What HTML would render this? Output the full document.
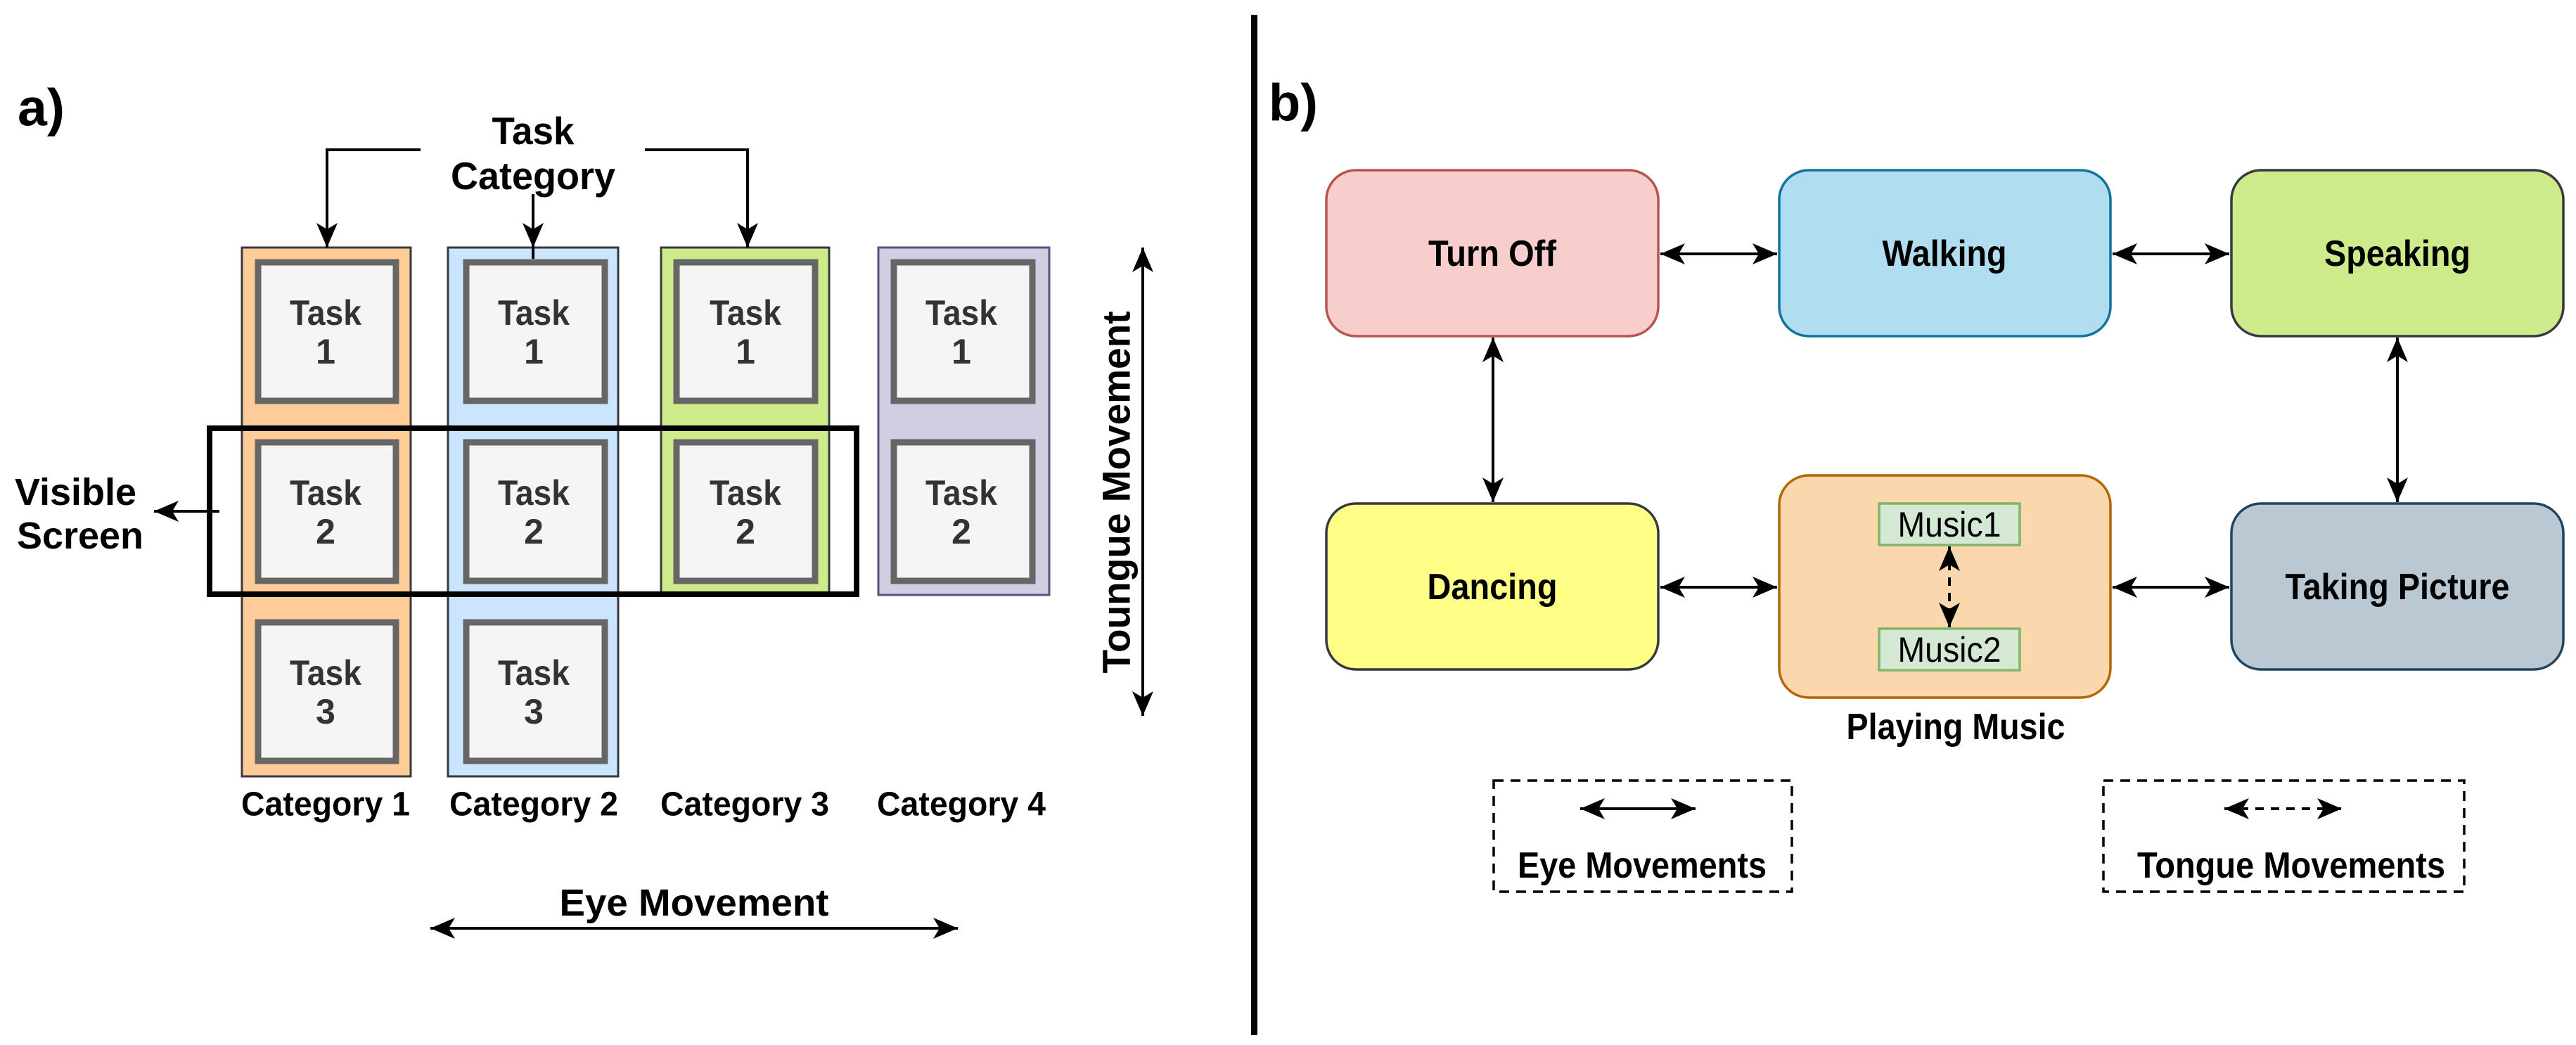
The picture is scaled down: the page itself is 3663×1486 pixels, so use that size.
<!DOCTYPE html>
<html><head><meta charset="utf-8"><style>
html,body{margin:0;padding:0;background:#fff;}
svg{display:block;}
text{font-family:"Liberation Sans",Arial,sans-serif;font-weight:bold;fill:#000;}
</style></head><body>
<svg width="3663" height="1486" viewBox="0 0 3663 1486" xmlns="http://www.w3.org/2000/svg">
<defs>
<marker id="ah" markerUnits="userSpaceOnUse" markerWidth="36" markerHeight="32" refX="35" refY="16" orient="auto-start-reverse" viewBox="0 0 36 32">
<path d="M0,1 L35,16 L0,31 L9,16 Z" fill="#000"/>
</marker>
</defs>

<!-- a) panel -->
<text x="25" y="153" font-size="74" dominant-baseline="central" textLength="67" lengthAdjust="spacingAndGlyphs">a)</text>

<!-- columns -->
<rect x="344" y="352" width="240" height="752" fill="#ffcc99" stroke="#36393d" stroke-width="3"/>
<rect x="637" y="352" width="242" height="752" fill="#cce5ff" stroke="#36393d" stroke-width="3"/>
<rect x="940" y="352" width="239" height="492" fill="#cdeb8b" stroke="#36393d" stroke-width="3"/>
<rect x="1249" y="352" width="243" height="494" fill="#d0cee2" stroke="#56517e" stroke-width="3"/>

<!-- task boxes -->
<g fill="#f5f5f5" stroke="#666" stroke-width="9">
<rect x="367" y="373" width="196" height="197"/>
<rect x="367" y="629" width="196" height="197"/>
<rect x="367" y="885" width="196" height="197"/>
<rect x="663" y="373" width="197" height="197"/>
<rect x="663" y="629" width="197" height="197"/>
<rect x="663" y="885" width="197" height="197"/>
<rect x="962" y="373" width="197" height="197"/>
<rect x="962" y="629" width="197" height="197"/>
<rect x="1271" y="373" width="197" height="197"/>
<rect x="1271" y="629" width="197" height="197"/>
</g>
<g font-size="50" text-anchor="middle" dominant-baseline="central" style="fill:#333">
<text x="463" y="445" style="fill:#333" textLength="102" lengthAdjust="spacingAndGlyphs">Task</text><text x="463" y="500" style="fill:#333">1</text>
<text x="463" y="701" style="fill:#333" textLength="102" lengthAdjust="spacingAndGlyphs">Task</text><text x="463" y="756" style="fill:#333">2</text>
<text x="463" y="957" style="fill:#333" textLength="102" lengthAdjust="spacingAndGlyphs">Task</text><text x="463" y="1012" style="fill:#333">3</text>
<text x="759" y="445" style="fill:#333" textLength="102" lengthAdjust="spacingAndGlyphs">Task</text><text x="759" y="500" style="fill:#333">1</text>
<text x="759" y="701" style="fill:#333" textLength="102" lengthAdjust="spacingAndGlyphs">Task</text><text x="759" y="756" style="fill:#333">2</text>
<text x="759" y="957" style="fill:#333" textLength="102" lengthAdjust="spacingAndGlyphs">Task</text><text x="759" y="1012" style="fill:#333">3</text>
<text x="1060" y="445" style="fill:#333" textLength="102" lengthAdjust="spacingAndGlyphs">Task</text><text x="1060" y="500" style="fill:#333">1</text>
<text x="1060" y="701" style="fill:#333" textLength="102" lengthAdjust="spacingAndGlyphs">Task</text><text x="1060" y="756" style="fill:#333">2</text>
<text x="1367" y="445" style="fill:#333" textLength="102" lengthAdjust="spacingAndGlyphs">Task</text><text x="1367" y="500" style="fill:#333">1</text>
<text x="1367" y="701" style="fill:#333" textLength="102" lengthAdjust="spacingAndGlyphs">Task</text><text x="1367" y="756" style="fill:#333">2</text>
</g>

<!-- visible screen -->
<rect x="298" y="609" width="920" height="236" fill="none" stroke="#000" stroke-width="8"/>
<line x1="312" y1="727" x2="219" y2="727" stroke="#000" stroke-width="4" marker-end="url(#ah)"/>
<text x="21" y="700" font-size="54" dominant-baseline="central" textLength="173" lengthAdjust="spacingAndGlyphs">Visible</text>
<text x="24" y="762" font-size="54" dominant-baseline="central" textLength="180" lengthAdjust="spacingAndGlyphs">Screen</text>

<!-- task category -->
<text x="758" y="186" font-size="55" text-anchor="middle" dominant-baseline="central" textLength="117" lengthAdjust="spacingAndGlyphs">Task</text>
<text x="758" y="250" font-size="55" text-anchor="middle" dominant-baseline="central" textLength="234" lengthAdjust="spacingAndGlyphs">Category</text>
<polyline points="598,213 465,213 465,352" fill="none" stroke="#000" stroke-width="4" marker-end="url(#ah)"/>
<line x1="758" y1="276" x2="758" y2="352" stroke="#000" stroke-width="4" marker-end="url(#ah)"/>
<line x1="758" y1="352" x2="758" y2="368" stroke="#000" stroke-width="4"/>
<polyline points="917,213 1063,213 1063,352" fill="none" stroke="#000" stroke-width="4" marker-end="url(#ah)"/>

<!-- category labels -->
<g font-size="48" text-anchor="middle" dominant-baseline="central">
<text x="463" y="1144" textLength="240" lengthAdjust="spacingAndGlyphs">Category 1</text>
<text x="759" y="1144" textLength="240" lengthAdjust="spacingAndGlyphs">Category 2</text>
<text x="1059" y="1144" textLength="240" lengthAdjust="spacingAndGlyphs">Category 3</text>
<text x="1367" y="1144" textLength="240" lengthAdjust="spacingAndGlyphs">Category 4</text>
</g>

<!-- tongue movement -->
<line x1="1625" y1="352" x2="1625" y2="1018" stroke="#000" stroke-width="4" marker-start="url(#ah)" marker-end="url(#ah)"/>
<text x="0" y="0" font-size="56" text-anchor="middle" dominant-baseline="central" textLength="515" lengthAdjust="spacingAndGlyphs" transform="translate(1587,700) rotate(-90)">Toungue Movement</text>

<!-- eye movement -->
<text x="987" y="1284" font-size="54" text-anchor="middle" dominant-baseline="central" textLength="383" lengthAdjust="spacingAndGlyphs">Eye Movement</text>
<line x1="612" y1="1320" x2="1362" y2="1320" stroke="#000" stroke-width="4" marker-start="url(#ah)" marker-end="url(#ah)"/>

<!-- divider -->
<rect x="1779" y="21" width="9" height="1451" fill="#000"/>

<!-- b) panel -->
<text x="1804" y="146" font-size="74" dominant-baseline="central" textLength="70" lengthAdjust="spacingAndGlyphs">b)</text>

<g stroke-width="3.5">
<rect x="1886" y="242" width="472" height="236" rx="42" fill="#f8cecc" stroke="#b85450"/>
<rect x="2530" y="242" width="471" height="236" rx="42" fill="#b1ddf0" stroke="#10739e"/>
<rect x="3173" y="242" width="472" height="236" rx="42" fill="#cdeb8b" stroke="#36393d"/>
<rect x="1886" y="716" width="472" height="236" rx="42" fill="#ffff88" stroke="#36393d"/>
<rect x="2530" y="676" width="471" height="316" rx="42" fill="#fad7ac" stroke="#b46504"/>
<rect x="3173" y="716" width="472" height="236" rx="42" fill="#bac8d3" stroke="#23445d"/>
<rect x="2672" y="716" width="200" height="59" fill="#d5e8d4" stroke="#82b366"/>
<rect x="2672" y="894" width="200" height="59" fill="#d5e8d4" stroke="#82b366"/>
</g>
<g font-size="52" text-anchor="middle" dominant-baseline="central">
<text x="2122" y="361" textLength="182" lengthAdjust="spacingAndGlyphs">Turn Off</text>
<text x="2765" y="361" textLength="177" lengthAdjust="spacingAndGlyphs">Walking</text>
<text x="3409" y="361" textLength="208" lengthAdjust="spacingAndGlyphs">Speaking</text>
<text x="2122" y="835" textLength="185" lengthAdjust="spacingAndGlyphs">Dancing</text>
<text x="3409" y="835" textLength="319" lengthAdjust="spacingAndGlyphs">Taking Picture</text>
<text x="2781" y="1034" textLength="311" lengthAdjust="spacingAndGlyphs">Playing Music</text>
<text x="2335" y="1231" textLength="354" lengthAdjust="spacingAndGlyphs">Eye Movements</text>
<text x="3258" y="1231" textLength="438" lengthAdjust="spacingAndGlyphs">Tongue Movements</text>
</g>
<g font-size="50" text-anchor="middle" dominant-baseline="central" font-weight="normal">
<text x="2772" y="746" style="font-weight:normal" textLength="147" lengthAdjust="spacingAndGlyphs">Music1</text>
<text x="2772" y="924" style="font-weight:normal" textLength="147" lengthAdjust="spacingAndGlyphs">Music2</text>
</g>

<g stroke="#000" stroke-width="4">
<line x1="2361" y1="361" x2="2527" y2="361" marker-start="url(#ah)" marker-end="url(#ah)"/>
<line x1="3004" y1="361" x2="3170" y2="361" marker-start="url(#ah)" marker-end="url(#ah)"/>
<line x1="2361" y1="835" x2="2527" y2="835" marker-start="url(#ah)" marker-end="url(#ah)"/>
<line x1="3004" y1="835" x2="3170" y2="835" marker-start="url(#ah)" marker-end="url(#ah)"/>
<line x1="2123" y1="480" x2="2123" y2="714" marker-start="url(#ah)" marker-end="url(#ah)"/>
<line x1="3409" y1="480" x2="3409" y2="714" marker-start="url(#ah)" marker-end="url(#ah)"/>
<line x1="2772" y1="777" x2="2772" y2="892" stroke-dasharray="12,10" marker-start="url(#ah)" marker-end="url(#ah)"/>
<line x1="2247" y1="1150" x2="2411" y2="1150" marker-start="url(#ah)" marker-end="url(#ah)"/>
<line x1="3163" y1="1150" x2="3330" y2="1150" stroke-dasharray="12,10" marker-start="url(#ah)" marker-end="url(#ah)"/>
</g>
<g fill="none" stroke="#000" stroke-width="3.5" stroke-dasharray="14,10">
<rect x="2124" y="1110" width="424" height="158"/>
<rect x="2991" y="1110" width="513" height="158"/>
</g>
</svg>
</body></html>
